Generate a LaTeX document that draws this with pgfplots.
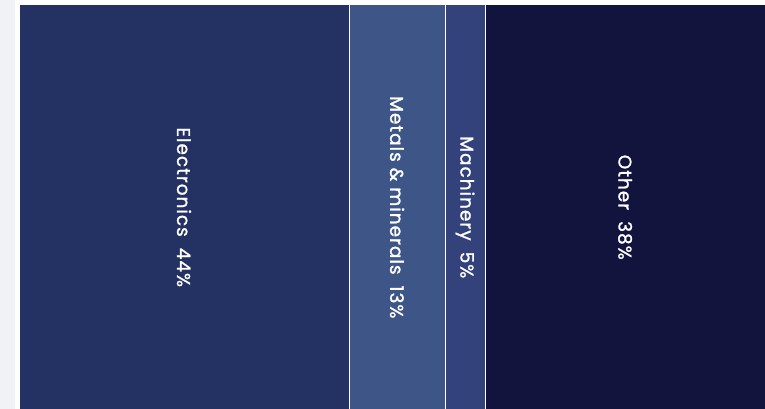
\documentclass[border=0pt]{standalone}
\usepackage{pgfplots}
\pgfplotsset{compat=1.18}
\usepackage{fontspec}
\setmainfont{Poppins}[LetterSpace=5.5, FakeBold=1.3]
\definecolor{cEl}{RGB}{35,49,99}
\definecolor{cMe}{RGB}{62,86,135}
\definecolor{cMa}{RGB}{51,66,122}
\definecolor{cOt}{RGB}{18,20,62}
\definecolor{bgL}{RGB}{240,242,245}
\tikzset{lbl/.style={rotate=-90, text=white, font=\fontsize{18.5}{22}\selectfont, anchor=center, inner sep=0pt}}
\begin{document}
\begin{tikzpicture}
\fill[white] (0,0) rectangle (765bp,409bp);
\fill[bgL] (0,0) rectangle (15bp,409bp);
\begin{axis}[
  at={(19bp,0bp)}, anchor=south west,
  width=746bp, height=403.5bp, scale only axis,
  hide axis, xmin=0, xmax=100, ymin=-0.5, ymax=0.5,
  xbar stacked, bar width=420bp,
  clip=true,
]
\addplot[fill=cEl, draw=white, line width=1bp] coordinates {(44.24,0)};
\addplot[fill=cMe, draw=white, line width=1bp] coordinates {(12.87,0)};
\addplot[fill=cMa, draw=white, line width=1bp] coordinates {(5.36,0)};
\addplot[fill=cOt, draw=white, line width=1bp] coordinates {(37.53,0)};
\coordinate (lE) at (axis cs:22.12,0);
\coordinate (lM) at (axis cs:50.68,0);
\coordinate (lC) at (axis cs:59.80,0);
\coordinate (lO) at (axis cs:81.25,0);
\end{axis}
\node[lbl] at (lE) {Electronics\hspace{0.6em}44\%};
\node[lbl] at (lM) {Metals \& minerals\hspace{0.6em}13\%};
\node[lbl] at (lC) {Machinery\hspace{0.6em}5\%};
\node[lbl] at (lO) {Other\hspace{0.6em}38\%};
\end{tikzpicture}
\end{document}
